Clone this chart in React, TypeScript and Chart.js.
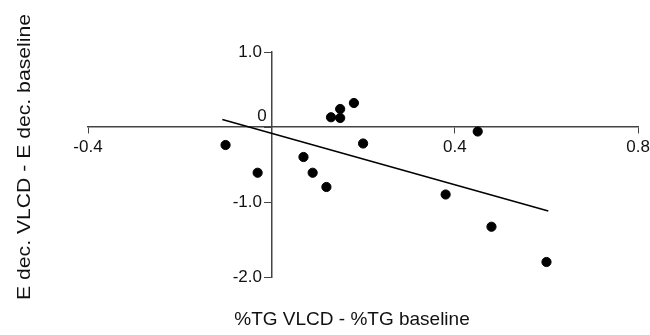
import React, { useEffect, useRef } from "react";
import { Chart, registerables } from "chart.js";

Chart.register(...registerables);

const pointX = [-0.10, -0.03, 0.07, 0.09, 0.12, 0.13, 0.15, 0.15, 0.18, 0.20, 0.38, 0.45, 0.48, 0.60];
const pointY = [-0.24, -0.61, -0.40, -0.61, -0.80, 0.13, 0.24, 0.12, 0.32, -0.22, -0.90, -0.06, -1.33, -1.80];
const fitX = [-0.107, 0.604];
const fitY = [0.10, -1.12];
const xTitle = "%TG VLCD - %TG baseline";
const yTitle = "E dec. VLCD - E dec. baseline";

const FONT = "'Liberation Sans', Arial, sans-serif";

const titlePlugin = {
  id: "manualTitles",
  afterDraw(chart: any) {
    const ctx = chart.ctx;
    ctx.save();
    ctx.fillStyle = "#111";
    ctx.font = `19px ${FONT}`;
    ctx.textAlign = "center";
    ctx.textBaseline = "middle";
    ctx.fillText(xTitle, 352, 320);
    ctx.restore();

    ctx.save();
    ctx.fillStyle = "#111";
    ctx.font = `18px ${FONT}`;
    ctx.textAlign = "center";
    ctx.textBaseline = "alphabetic";
    ctx.translate(30, 157);
    ctx.rotate(-Math.PI / 2);
    const w = ctx.measureText(yTitle).width;
    ctx.scale(286 / w, 1);
    ctx.fillText(yTitle, 0, 0);
    ctx.restore();
  },
};

export default function App() {
  const ref = useRef<HTMLCanvasElement>(null);
  useEffect(() => {
    if (!ref.current) return;
    const chart = new Chart(ref.current, {
      type: "scatter",
      data: {
        datasets: [
          {
            label: "points",
            data: pointX.map((x, i) => ({ x, y: pointY[i] })),
            pointRadius: 4.6,
            pointBackgroundColor: "#000",
            pointBorderColor: "#000",
            pointBorderWidth: 1,
            showLine: false,
          },
          {
            label: "fit",
            data: fitX.map((x, i) => ({ x, y: fitY[i] })),
            showLine: true,
            borderColor: "#000",
            borderWidth: 1.5,
            pointRadius: 0,
            fill: false,
          },
        ],
      },
      plugins: [titlePlugin],
      options: {
        animation: false,
        responsive: true,
        maintainAspectRatio: false,
        layout: { padding: { left: 88, right: 12, top: 52, bottom: 58 } },
        plugins: { legend: { display: false }, tooltip: { enabled: false } },
        scales: {
          x: {
            type: "linear",
            position: { y: 0 } as any,
            min: -0.4,
            max: 0.8,
            ticks: {
              stepSize: 0.4,
              color: "#111",
              font: { family: FONT, size: 17 },
              padding: 4,
              maxRotation: 0,
              callback: (v: any) => (Math.abs(v) < 1e-9 ? "" : Number(v).toFixed(1)),
            },
            grid: { drawOnChartArea: false, drawTicks: true, tickLength: 6, color: "#444" },
            border: { display: true, color: "#444", width: 1.5 },
          },
          y: {
            type: "linear",
            position: { x: 0 } as any,
            min: -2,
            max: 1,
            ticks: {
              stepSize: 1,
              color: "#111",
              font: { family: FONT, size: 17 },
              padding: 2,
              callback: (v: any) => (Math.abs(v) < 1e-9 ? ["0 ", ""] : Number(v).toFixed(1) + "  "),
            },
            grid: { drawOnChartArea: false, drawTicks: true, tickLength: 7, color: "#444" },
            border: { display: true, color: "#444", width: 1.5 },
          },
        },
      },
    });
    return () => chart.destroy();
  }, []);
  return (
    <div style={{ position: "absolute", left: 0, top: 0, width: 650, height: 335, background: "#fff", overflow: "hidden" }}>
      <div style={{ position: "relative", width: 654, height: 335 }}>
        <canvas ref={ref} />
      </div>
    </div>
  );
}
